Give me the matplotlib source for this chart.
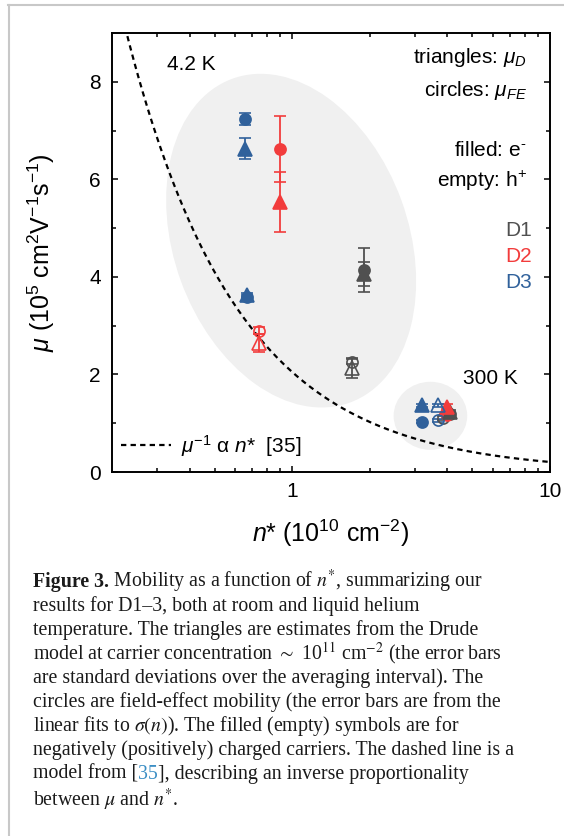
import matplotlib
matplotlib.use('Agg')
import matplotlib.pyplot as plt
from matplotlib.patches import Ellipse
from matplotlib.lines import Line2D
import numpy as np

plt.rcParams['font.family'] = ['Liberation Sans', 'DejaVu Sans']
plt.rcParams['mathtext.fontset'] = 'custom'
plt.rcParams['mathtext.rm'] = 'Liberation Sans'
plt.rcParams['mathtext.it'] = 'Liberation Sans:italic'
plt.rcParams['mathtext.bf'] = 'Liberation Sans:bold'

# data: n* (1e10 cm^-2), mu (1e5 cm^2/Vs), error
# kind: tri = Drude (mu_D), circ = field effect (mu_FE); _e filled (electrons), _h empty (holes)
d1_n = [1.90, 1.90, 1.70, 1.70, 4.10, 4.10, 3.85]
d1_mu = [4.06, 4.14, 2.13, 2.26, 1.23, 1.19, 1.10]
d1_err = [0.25, 0.45, 0.20, 0.05, 0.04, 0.04, 0.04]
d1_kind = ['tri_e', 'circ_e', 'tri_h', 'circ_h', 'tri_e', 'circ_e', 'circ_h']

d2_n = [0.893, 0.893, 0.746, 0.746, 3.97, 3.97]
d2_mu = [5.54, 6.62, 2.64, 2.90, 1.34, 1.16]
d2_err = [0.61, 0.67, 0.19, 0.08, 0.05, 0.05]
d2_kind = ['tri_e', 'circ_e', 'tri_h', 'circ_h', 'tri_e', 'circ_e']

d3_n = [0.656, 0.656, 0.665, 0.665, 3.20, 3.20, 3.68, 3.68]
d3_mu = [6.63, 7.24, 3.62, 3.58, 1.37, 1.03, 1.37, 1.06]
d3_err = [0.22, 0.12, 0.04, 0.04, 0.03, 0.03, 0.03, 0.03]
d3_kind = ['tri_e', 'circ_e', 'tri_e', 'circ_e', 'tri_e', 'circ_e', 'tri_h', 'circ_h']

dev_names = ['D1', 'D2', 'D3']
dev_colors = ['#505050', '#f23c3c', '#30619b']

# dashed model line mu = C / n*
model_c = 2.05
model_n = np.logspace(np.log10(0.2), 1, 200)

caption_lines = [
    'Mobility as a function of $n^{*}$, summarizing our',
    'results for D1\u20133, both at room and liquid helium',
    'temperature. The triangles are estimates from the Drude',
    'model at carrier concentration $\\sim$ 10$^{11}$ cm$^{-2}$ (the error bars',
    'are standard deviations over the averaging interval). The',
    'circles are field-effect mobility (the error bars are from the',
    'linear fits to $\\sigma(n)$). The filled (empty) symbols are for',
    'negatively (positively) charged carriers. The dashed line is a',
    'model from [',
    'between $\\mu$ and $n^{*}$.',
]

fig = plt.figure(figsize=(5.64, 8.36), dpi=100)
ax = fig.add_axes([112 / 564, (836 - 472) / 836, 438 / 564, 439 / 836])

# grey blobs behind the points
ax.add_patch(Ellipse((0.409, 0.527), 0.536, 0.785, angle=20,
                     transform=ax.transAxes, facecolor='#f0f0f0',
                     edgecolor='none', zorder=0))
ax.add_patch(Ellipse((0.727, 0.128), 0.168, 0.155,
                     transform=ax.transAxes, facecolor='#f0f0f0',
                     edgecolor='none', zorder=0))

ax.plot(model_n, model_c / model_n, color='black', lw=1.6,
        linestyle=(0, (2.4, 1.9)), zorder=1)

for n, mu, err, kind, col in zip([d1_n, d2_n, d3_n], [d1_mu, d2_mu, d3_mu],
                                 [d1_err, d2_err, d3_err],
                                 [d1_kind, d2_kind, d3_kind], dev_colors):
    for i in range(len(n)):
        k = kind[i]
        marker = '^' if k.startswith('tri') else 'o'
        ms = 9.5 if marker == '^' else 8
        face = col if k.endswith('_e') else 'none'
        z = 4 if marker == '^' else 3
        ax.errorbar(n[i], mu[i], yerr=err[i], fmt=marker, ms=ms, mfc=face,
                    mec=col, mew=1.2, color=col, ecolor=col, elinewidth=1.3,
                    capsize=4.5, capthick=1.3, zorder=z)

ax.set_xscale('log')
ax.set_xlim(0.2, 10)
ax.set_ylim(0, 9)
ax.set_yticks([0, 2, 4, 6, 8])
ax.set_yticks([1, 3, 5, 7], minor=True)
ax.set_xticks([1, 10])
ax.set_xticklabels(['1', '10'])
ax.set_xticks([0.3, 0.4, 0.5, 0.6, 0.7, 0.8, 0.9, 2, 3, 4, 5, 6, 7, 8, 9], minor=True)
ax.xaxis.set_minor_formatter(matplotlib.ticker.NullFormatter())
ax.tick_params(which='both', direction='in', top=True, right=True,
               width=1.1, labelsize=15)
ax.tick_params(which='major', length=4.5)
ax.tick_params(which='minor', length=2.8)
ax.tick_params(axis='y', pad=8)
ax.tick_params(axis='x', pad=7)
for s in ax.spines.values():
    s.set_linewidth(1.4)

ax.set_xlabel('$n$* (10$^{10}$ cm$^{-2}$)', fontsize=18)
ax.set_ylabel('$\\mu$ (10$^{5}$ cm$^{2}$V$^{-1}$s$^{-1}$)', fontsize=18)
ax.xaxis.set_label_coords(0.5, -0.105)
ax.yaxis.set_label_coords(-0.125, 0.5)

ax.text(0.126, 0.929, '4.2 K', transform=ax.transAxes, fontsize=15, va='center')
ax.text(0.801, 0.214, '300 K', transform=ax.transAxes, fontsize=15, va='center')
ax.text(0.947, 0.945, 'triangles: $\\mu_D$', transform=ax.transAxes,
        fontsize=15, ha='right', va='center')
ax.text(0.947, 0.870, 'circles: $\\mu_{FE}$', transform=ax.transAxes,
        fontsize=15, ha='right', va='center')
ax.text(0.947, 0.733, 'filled: e$^{\\mathrm{\u2010}}$', transform=ax.transAxes,
        fontsize=15, ha='right', va='center')
ax.text(0.947, 0.663, 'empty: h$^{+}$', transform=ax.transAxes,
        fontsize=15, ha='right', va='center')
for j, (name, col) in enumerate(zip(dev_names, dev_colors)):
    ax.text(0.959, 0.549 - 0.059 * j, name, color=col, transform=ax.transAxes,
            fontsize=15, ha='right', va='center')

h = Line2D([], [], color='black', lw=1.6, linestyle=(0, (2.4, 1.9)))
ax.legend([h], ['$\\mu^{-1}$ \u03b1 $n$*  [35]'], loc='lower left',
          bbox_to_anchor=(0.02, 0.03), borderaxespad=0, borderpad=0,
          frameon=False, fontsize=15, handlelength=2.4, handletextpad=0.5)

# page border
fig.add_artist(Line2D([8.5 / 564, 8.5 / 564], [0, (836 - 5) / 836],
                      color='#c8c8c8', lw=1.5, transform=fig.transFigure))
fig.add_artist(Line2D([8 / 564, 1], [(836 - 5) / 836, (836 - 5) / 836],
                      color='#c8c8c8', lw=1.5, transform=fig.transFigure))

# caption
cap_kw = dict(fontsize=14.35, family='Liberation Serif', math_fontfamily='stix',
              va='baseline', ha='left', color='#1a1a1a')
baselines = [587, 611, 635, 659, 683, 707, 731, 755, 779, 806]
x0 = 33 / 564
renderer = fig.canvas.get_renderer()


def after(t):
    bb = t.get_window_extent(renderer=renderer)
    return bb.x1 / fig.bbox.width


for i, line in enumerate(caption_lines):
    yb = (836 - baselines[i]) / 836
    if i == 0:
        t = fig.text(x0, yb, 'Figure 3.', weight='bold', **cap_kw)
        fig.text(after(t), yb, ' ' + line, **cap_kw)
    elif i == 8:
        t = fig.text(x0, yb, line, **cap_kw)
        kw2 = dict(cap_kw)
        kw2['color'] = '#3b8ec4'
        t2 = fig.text(after(t), yb, '35', **kw2)
        fig.text(after(t2), yb, '], describing an inverse proportionality', **cap_kw)
    else:
        fig.text(x0, yb, line, **cap_kw)

fig.savefig('out.png', dpi=100)
